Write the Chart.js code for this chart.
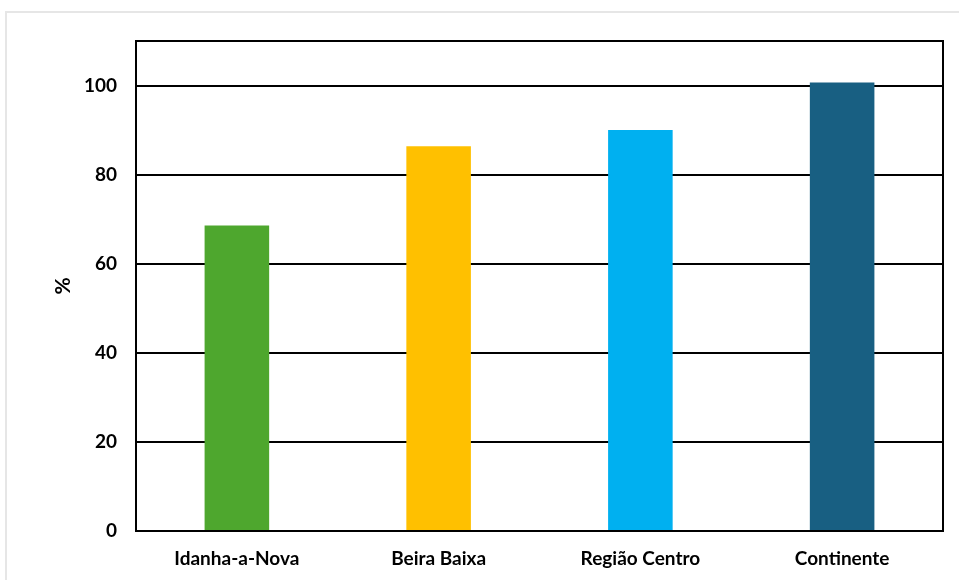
<!DOCTYPE html>
<html>
<head>
<meta charset="utf-8">
<script src="https://cdn.jsdelivr.net/npm/chart.js@4/dist/chart.umd.min.js"></script>
<style>
  html, body { margin: 0; padding: 0; background: #fff; overflow: hidden; }
  #frame { position: absolute; left: 5px; top: 11px; width: 970px; height: 600px; border: 2px solid #e6e6e6; }
  #wrap { position: absolute; left: 0; top: 0; width: 959px; height: 580px; }
</style>
</head>
<body>
<div id="frame"></div>
<div id="wrap"><canvas id="myChart" width="959" height="580"></canvas></div>
<script>
	// 데이터
	var categories = ['Idanha-a-Nova', 'Beira Baixa', 'Região Centro', 'Continente'];
	var values = [68.6, 86.4, 90.0, 100.7];
	var barColors = ['#4ea72e', '#ffc000', '#00b0f0', '#185f82'];
	var yTicks = [0, 20, 40, 60, 80, 100];

	// 플롯 영역 테두리
	var boxPlugin = {
		id: 'box',
		afterDraw: function(chart){
			var a = chart.chartArea, ctx = chart.ctx;
			ctx.save();
			ctx.strokeStyle = '#000';
			ctx.lineWidth = 2;
			ctx.strokeRect(a.left, a.top, a.right - a.left, a.bottom - a.top);
			ctx.restore();
		}
	};

	var tickFont = { family: 'Lato, "Open Sans", sans-serif', size: 19, weight: 'bold' };

	new Chart('myChart', {
		type: 'bar',
		data: {
			labels: categories,
			datasets: [{
				data: values,
				backgroundColor: barColors,
				barPercentage: 0.32,
				categoryPercentage: 1
			}]
		},
		options: {
			responsive: false,
			animation: false,
			layout: { padding: { left: 51, top: 41, right: 16, bottom: 0 } },
			plugins: { legend: { display: false }, tooltip: { enabled: false } },
			scales: {
				x: {
					grid: { display: false },
					border: { color: '#000', width: 2 },
					ticks: { color: '#000', font: tickFont, padding: 8 },
					afterFit: function(s){ s.height = 49; }
				},
				y: {
					min: 0,
					max: 110,
					afterBuildTicks: function(s){ s.ticks = yTicks.map(function(v){ return { value: v }; }); },
					grid: { color: '#000', lineWidth: 2, drawTicks: false },
					border: { color: '#000', width: 2 },
					ticks: { color: '#000', font: tickFont, padding: 19 },
					title: { display: true, text: '%', color: '#000', font: { family: 'Lato, "Open Sans", sans-serif', size: 21, weight: 'bold' }, padding: 0 },
					afterFit: function(s){ s.width = 85; }
				}
			}
		},
		plugins: [boxPlugin]
	});
</script>
</body>
</html>
